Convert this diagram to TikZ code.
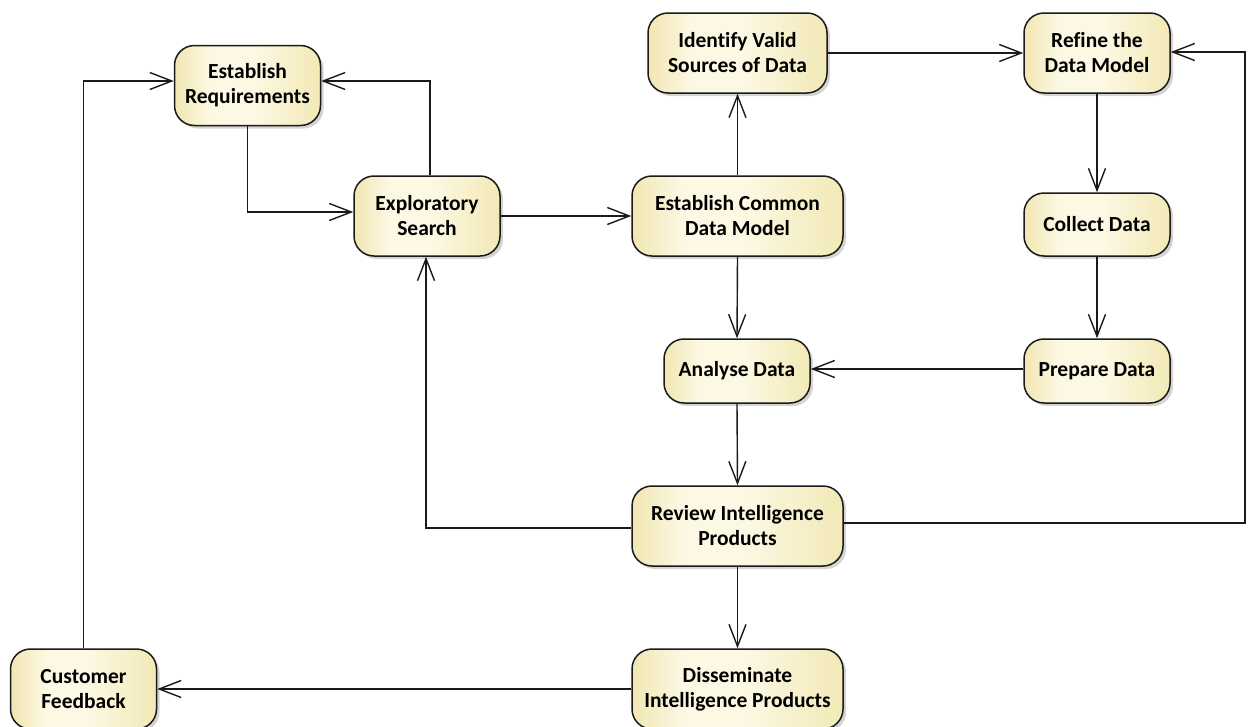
\documentclass[tikz,border=0pt]{standalone}
\usepackage{fontspec}
\setmainfont{Carlito}[Ligatures={NoCommon}]
\usetikzlibrary{arrows.meta,shadows,positioning}
\definecolor{cL}{HTML}{F1E6B2}
\definecolor{cM}{HTML}{FCF8E3}
\definecolor{cR}{HTML}{F2E9B6}
\definecolor{edge}{HTML}{1A1A1A}
\pgfdeclarehorizontalshading{boxsh}{100bp}{color(0bp)=(cL); color(25bp)=(cL); color(37bp)=(cM); color(52bp)=(cM); color(75bp)=(cR); color(100bp)=(cR)}
\tikzset{
  act/.style={draw=edge, line width=1.5pt, rounded corners=20pt, shading=boxsh,
    general shadow={fill=black!17, shadow xshift=3pt, shadow yshift=-3pt},
    align=center, inner sep=0pt, minimum height=80pt,
    font=\fontsize{21.5}{25}\selectfont\bfseries},
  sw/.style={minimum width=146pt},
  mw/.style={minimum width=179pt},
  ww/.style={minimum width=211pt},
  arr/.style={draw=edge, line width=1.4pt, -{Straight Barb[length=22pt,width=17pt,line width=1.4pt]}}
}
\begin{document}
\begin{tikzpicture}[x=1pt,y=-1pt]
\useasboundingbox (0,0) rectangle (1248,726);
\clip (0,0) rectangle (1248,726);
\node[act,sw] (ER) at (247.5,85.5) {Establish\\Requirements};
\node[act,sw] (ES) at (427,216) {Exploratory\\Search};
\node[act,mw] (ID) at (737.5,53) {Identify Valid\\Sources of Data};
\node[act,sw] (RF) at (1097,53) {Refine the\\Data Model};
\node[act,ww] (EC) at (737.5,216) {Establish Common\\Data Model};
\node[act,sw,minimum height=63pt] (CD) at (1097,224.5) {Collect Data};
\node[act,sw,minimum height=64pt] (AD) at (737,371) {Analyse Data};
\node[act,sw,minimum height=64pt] (PD) at (1097,371) {Prepare Data};
\node[act,ww] (RV) at (737.5,526) {Review Intelligence\\Products};
\node[act,ww] (DS) at (737.5,689) {Disseminate\\Intelligence Products};
\node[act,sw] (CF) at (83.5,689) {Customer\\Feedback};
\coordinate (rc) at (1245,300);

\draw[arr] (ER.south) |- ([yshift=4pt]ES.west);
\draw[arr] ([xshift=3pt]ES.north) |- ([yshift=4.5pt]ER.east);
\draw[arr] (CF.north) |- ([yshift=4.5pt]ER.west);
\draw[arr] (ES.east) -- (EC.west);
\draw[arr] (EC.north) -- (ID.south);
\draw[arr] (ID.east) -- (RF.west);
\draw[arr] (RF.south) -- (CD.north);
\draw[arr] (CD.south) -- (PD.north);
\draw[arr] ([yshift=2pt]PD.west) -- ([yshift=2pt]AD.east);
\draw[arr] (EC.south) -- (AD.north);
\draw[arr] (AD.south) -- (RV.north);
\draw[arr] ([yshift=-2pt]RV.west) -| ([xshift=-1pt]ES.south);
\draw[arr] ([yshift=3pt]RV.east) -| (rc) |- ([yshift=1pt]RF.east);
\draw[arr] (RV.south) -- (DS.north);
\draw[arr] (DS.west) -- (CF.east);
\end{tikzpicture}
\end{document}
